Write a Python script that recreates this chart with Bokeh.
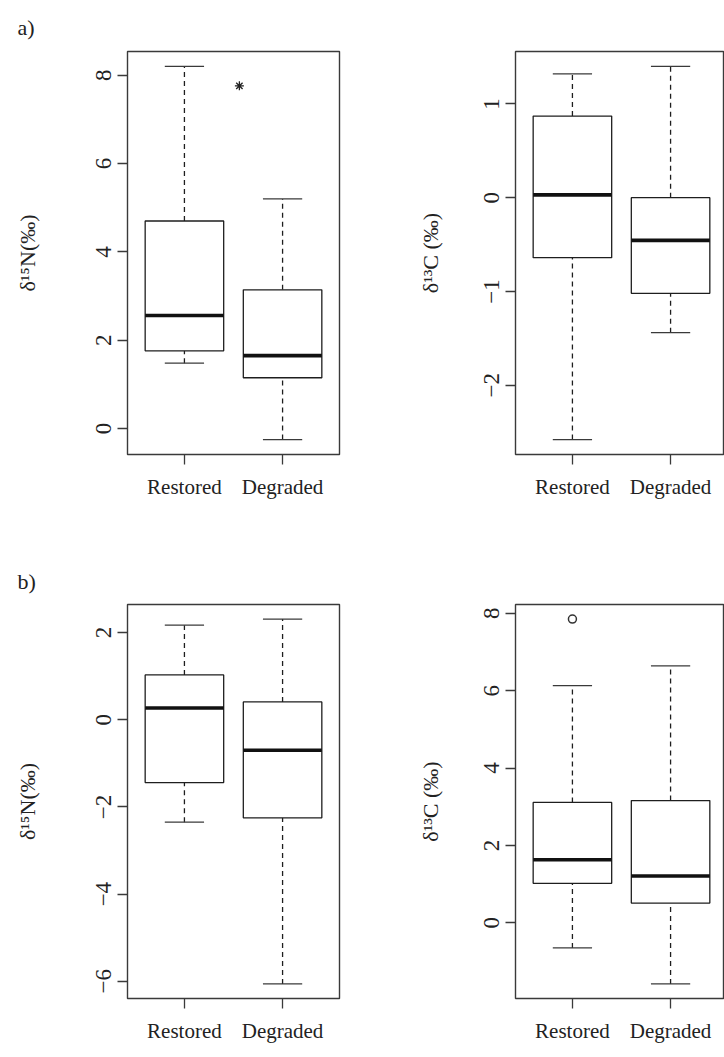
from bokeh.plotting import figure
from bokeh.layouts import column, row
from bokeh.models import FixedTicker, Range1d
from bokeh.embed import file_html
from bokeh.resources import INLINE

# ---------------- data ----------------
groups = ["Restored", "Degraded"]
group_x = [1, 2]

# a) left: delta 15N
a_n_low = [1.48, -0.25]
a_n_q1 = [1.76, 1.15]
a_n_med = [2.56, 1.65]
a_n_q3 = [4.70, 3.14]
a_n_high = [8.20, 5.20]
a_n_ticks = [0, 2, 4, 6, 8]
a_n_star_x = [1.56]
a_n_star_y = [7.76]

# a) right: delta 13C
a_c_low = [-2.58, -1.44]
a_c_q1 = [-0.64, -1.02]
a_c_med = [0.03, -0.455]
a_c_q3 = [0.87, 0.0]
a_c_high = [1.32, 1.40]
a_c_ticks = [-2, -1, 0, 1]

# b) left: delta 15N
b_n_low = [-2.35, -6.06]
b_n_q1 = [-1.44, -2.25]
b_n_med = [0.27, -0.70]
b_n_q3 = [1.03, 0.41]
b_n_high = [2.17, 2.31]
b_n_ticks = [-6, -4, -2, 0, 2]

# b) right: delta 13C
b_c_low = [-0.65, -1.58]
b_c_q1 = [1.02, 0.51]
b_c_med = [1.63, 1.21]
b_c_q3 = [3.11, 3.16]
b_c_high = [6.13, 6.64]
b_c_ticks = [0, 2, 4, 6, 8]
b_c_out_x = [1]
b_c_out_y = [7.85]

label_n = "δ¹⁵N(‰)"
label_c = "δ¹³C (‰)"

FONT = "Liberation Serif"
FRAME = "#3a3a3a"
BOX = "#1e1e1e"


def fmt(v):
    return str(v).replace("-", "\u2212")


def panel(low, q1, med, q3, high, ticks, ylabel, height, left, right, top, bottom,
          label_standoff, extra_y=(), tag=None, tag_standoff=16):
    ally = list(low) + list(high) + list(extra_y)
    lo, hi = min(ally), max(ally)
    pad = 0.04 * (hi - lo)
    width = 362
    frame_w = width - left - right
    x0 = 0.42
    x1 = x0 + 2.16 * frame_w / 212.0
    p = figure(width=width, height=height, output_backend="svg", toolbar_location=None,
               x_range=Range1d(x0, x1), y_range=Range1d(lo - pad, hi + pad),
               min_border_left=left, min_border_right=right,
               min_border_top=top, min_border_bottom=bottom)
    p.grid.visible = False
    p.outline_line_color = FRAME
    p.outline_line_width = 1.4
    p.background_fill_color = "white"
    p.border_fill_color = "white"
    if tag:
        p.title.text = tag
        p.title.align = "left"
        p.title.offset = -(left - 17)
        p.title.standoff = tag_standoff
        p.title.text_font = FONT
        p.title.text_font_size = "22px"
        p.title.text_font_style = "normal"
        p.title.text_color = "#222222"

    xs = group_x
    hw = 0.4
    cw = 0.2
    p.segment(x0=xs, y0=q3, x1=xs, y1=high, line_color=BOX, line_width=1.3, line_dash="5 4")
    p.segment(x0=xs, y0=low, x1=xs, y1=q1, line_color=BOX, line_width=1.3, line_dash="5 4")
    p.segment(x0=[x - cw for x in xs], y0=high, x1=[x + cw for x in xs], y1=high,
              line_color=FRAME, line_width=1.3)
    p.segment(x0=[x - cw for x in xs], y0=low, x1=[x + cw for x in xs], y1=low,
              line_color=FRAME, line_width=1.3)
    p.quad(left=[x - hw for x in xs], right=[x + hw for x in xs], bottom=q1, top=q3,
           fill_color="white", line_color=BOX, line_width=1.3)
    p.segment(x0=[x - hw for x in xs], y0=med, x1=[x + hw for x in xs], y1=med,
              line_color="#111111", line_width=3.6)

    xa = p.xaxis[0]
    xa.ticker = FixedTicker(ticks=xs)
    xa.major_label_overrides = {x: g for x, g in zip(xs, groups)}
    ya = p.yaxis[0]
    ya.ticker = FixedTicker(ticks=ticks)
    ya.major_label_overrides = {t: fmt(t) for t in ticks}
    ya.major_label_orientation = "vertical"
    ya.axis_label = ylabel
    ya.axis_label_standoff = label_standoff
    for ax in (xa, ya):
        ax.axis_line_color = None
        ax.major_tick_line_color = FRAME
        ax.major_tick_line_width = 1.3
        ax.major_tick_out = 10
        ax.major_tick_in = 0
        ax.minor_tick_line_color = None
        ax.major_label_text_font = FONT
        ax.major_label_text_font_size = "21px"
        ax.major_label_text_color = "#222222"
        ax.axis_label_text_font = FONT
        ax.axis_label_text_font_size = "22px"
        ax.axis_label_text_font_style = "normal"
        ax.axis_label_text_color = "#222222"
    ya.major_label_text_font_size = "23px"
    xa.major_label_standoff = 10
    ya.major_label_standoff = 6
    return p


p1 = panel(a_n_low, a_n_q1, a_n_med, a_n_q3, a_n_high, a_n_ticks, label_n,
           520, 127, 23, 49, 66, 54, tag="a)", tag_standoff=24)
p1.scatter(a_n_star_x, a_n_star_y, marker="asterisk", size=9, line_color="#222222",
           line_width=1.3)

p2 = panel(a_c_low, a_c_q1, a_c_med, a_c_q3, a_c_high, a_c_ticks, label_c,
           520, 153, 0, 49, 66, 39)

p3 = panel(b_n_low, b_n_q1, b_n_med, b_n_q3, b_n_high, b_n_ticks, label_n,
           530, 127, 23, 84, 52, 54, tag="b)", tag_standoff=21)

p4 = panel(b_c_low, b_c_q1, b_c_med, b_c_q3, b_c_high, b_c_ticks, label_c,
           530, 153, 0, 84, 52, 39, extra_y=b_c_out_y)
p4.scatter(b_c_out_x, b_c_out_y, marker="circle", size=8, fill_color=None,
           line_color="#333333", line_width=1.5)

layout = column(row(p1, p2, spacing=0), row(p3, p4, spacing=0), spacing=0)

with open("out.html", "w") as f:
    f.write(file_html(layout, INLINE))
